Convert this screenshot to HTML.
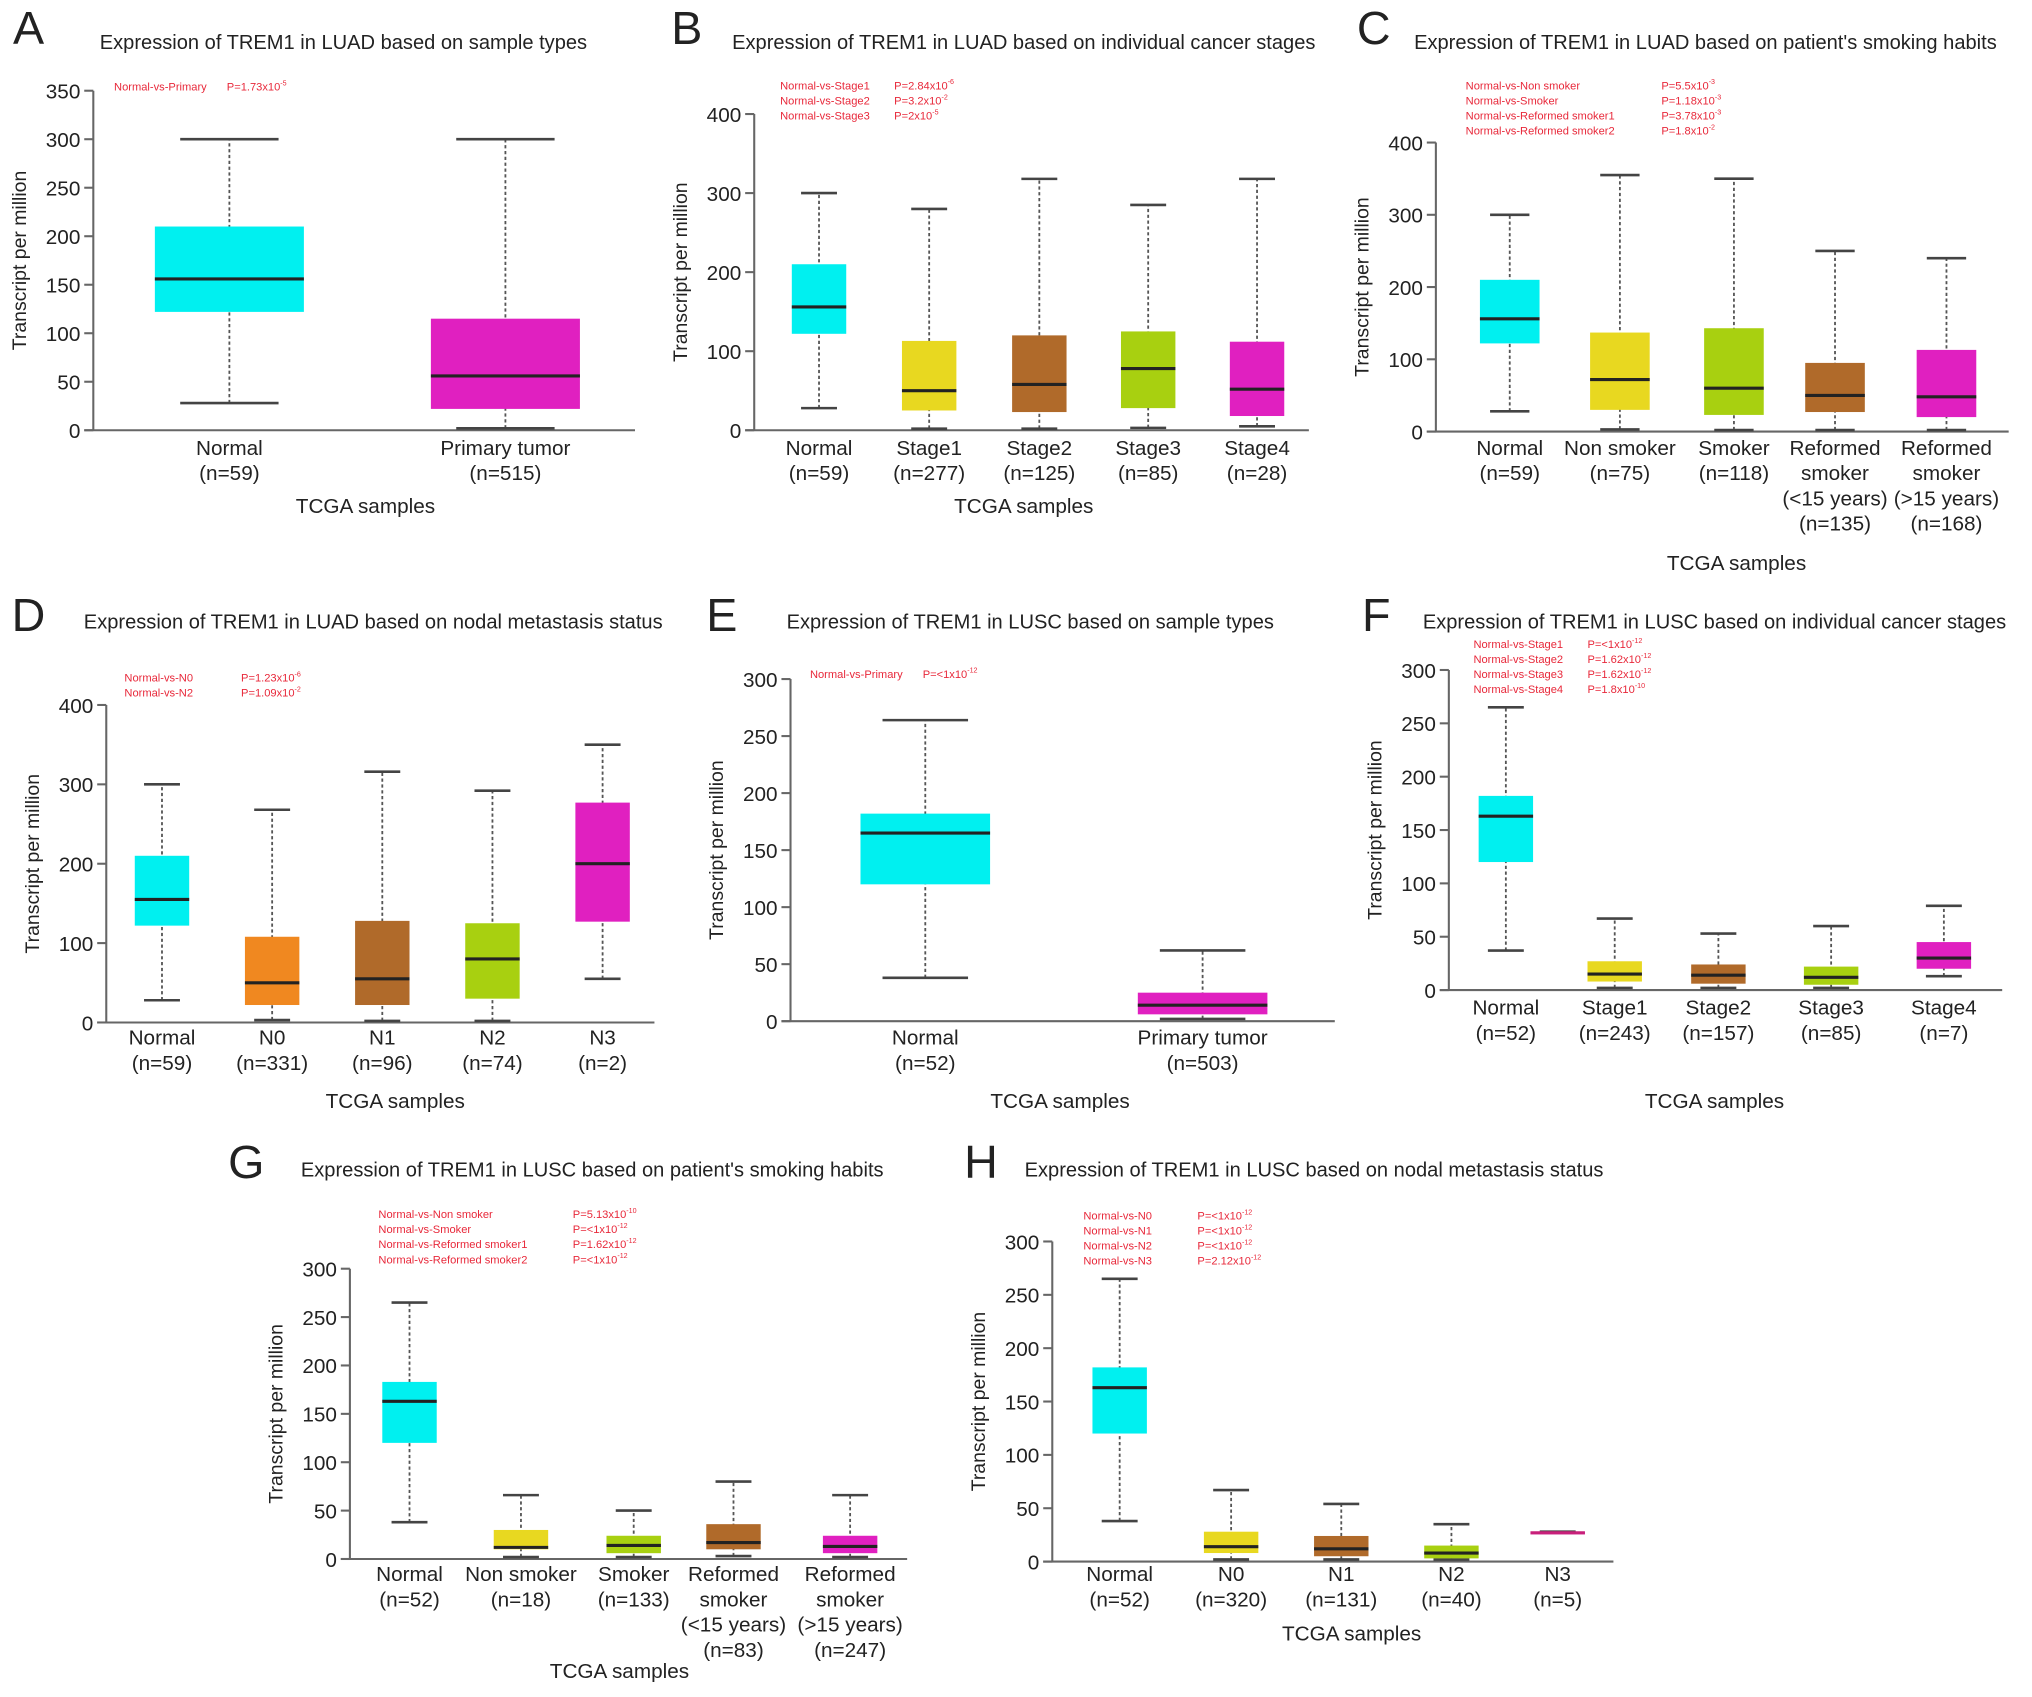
<!DOCTYPE html>
<html><head><meta charset="utf-8"><style>
html,body{margin:0;padding:0;background:#fff}
svg{display:block}
text{font-family:"Liberation Sans",Arial,sans-serif;fill:#222}
</style></head><body>
<svg id="fig" width="2032" height="1697" viewBox="0 0 1568 1309.5" xmlns="http://www.w3.org/2000/svg"></svg>
<script>
// ---- data ----
const panelLetters = ["A","B","C","D","E","F","G","H"];
const titles = [
 "Expression of TREM1 in LUAD based on sample types",
 "Expression of TREM1 in LUAD based on individual cancer stages",
 "Expression of TREM1 in LUAD based on patient's smoking habits",
 "Expression of TREM1 in LUAD based on nodal metastasis status",
 "Expression of TREM1 in LUSC based on sample types",
 "Expression of TREM1 in LUSC based on individual cancer stages",
 "Expression of TREM1 in LUSC based on patient's smoking habits",
 "Expression of TREM1 in LUSC based on nodal metastasis status"];
const catsA = [["Normal","(n=59)"],["Primary tumor","(n=515)"]];
const catsB = [["Normal","(n=59)"],["Stage1","(n=277)"],["Stage2","(n=125)"],["Stage3","(n=85)"],["Stage4","(n=28)"]];
const catsC = [["Normal","(n=59)"],["Non smoker","(n=75)"],["Smoker","(n=118)"],["Reformed","smoker","(<15 years)","(n=135)"],["Reformed","smoker","(>15 years)","(n=168)"]];
const catsD = [["Normal","(n=59)"],["N0","(n=331)"],["N1","(n=96)"],["N2","(n=74)"],["N3","(n=2)"]];
const catsE = [["Normal","(n=52)"],["Primary tumor","(n=503)"]];
const catsF = [["Normal","(n=52)"],["Stage1","(n=243)"],["Stage2","(n=157)"],["Stage3","(n=85)"],["Stage4","(n=7)"]];
const catsG = [["Normal","(n=52)"],["Non smoker","(n=18)"],["Smoker","(n=133)"],["Reformed","smoker","(<15 years)","(n=83)"],["Reformed","smoker","(>15 years)","(n=247)"]];
const catsH = [["Normal","(n=52)"],["N0","(n=320)"],["N1","(n=131)"],["N2","(n=40)"],["N3","(n=5)"]];
// [min, q1, median, q3, max]
const valsA = [[28,122,156,210,300],[2,22,56,115,300]];
const valsB = [[28,122,156,210,300],[2,25,50,113,280],[2,23,58,120,318],[3,28,78,125,285],[5,18,52,112,318]];
const valsC = [[28,122,156,210,300],[3,30,72,137,355],[2,23,60,143,350],[2,27,50,95,250],[2,20,48,113,240]];
const valsD = [[28,122,155,210,300],[3,22,50,108,268],[2,22,55,128,316],[2,30,80,125,292],[55,127,200,277,350]];
const valsE = [[38,120,165,182,264],[2,6,14,25,62]];
const valsF = [[37,120,163,182,265],[2,8,15,27,67],[2,6,14,24,53],[2,5,12,22,60],[13,20,30,45,79]];
const valsG = [[38,120,163,183,265],[2,10,12,30,66],[2,6,14,24,50],[3,10,17,36,80],[2,6,13,24,66]];
const valsH = [[38,120,163,182,265],[2,8,14,28,67],[2,5,12,24,54],[2,3,8,15,35],[27,27,27,28,28]];
const ticksA = [0,50,100,150,200,250,300,350];
const ticks400 = [0,100,200,300,400];
const ticks300 = [0,50,100,150,200,250,300];
const pA = [["Normal-vs-Primary","1.73x10","-5"]];
const pB = [["Normal-vs-Stage1","2.84x10","-6"],["Normal-vs-Stage2","3.2x10","-2"],["Normal-vs-Stage3","2x10","-5"]];
const pC = [["Normal-vs-Non smoker","5.5x10","-3"],["Normal-vs-Smoker","1.18x10","-3"],["Normal-vs-Reformed smoker1","3.78x10","-3"],["Normal-vs-Reformed smoker2","1.8x10","-2"]];
const pD = [["Normal-vs-N0","1.23x10","-6"],["Normal-vs-N2","1.09x10","-2"]];
const pE = [["Normal-vs-Primary","<1x10","-12"]];
const pF = [["Normal-vs-Stage1","<1x10","-12"],["Normal-vs-Stage2","1.62x10","-12"],["Normal-vs-Stage3","1.62x10","-12"],["Normal-vs-Stage4","1.8x10","-10"]];
const pG = [["Normal-vs-Non smoker","5.13x10","-10"],["Normal-vs-Smoker","<1x10","-12"],["Normal-vs-Reformed smoker1","1.62x10","-12"],["Normal-vs-Reformed smoker2","<1x10","-12"]];
const pH = [["Normal-vs-N0","<1x10","-12"],["Normal-vs-N1","<1x10","-12"],["Normal-vs-N2","<1x10","-12"],["Normal-vs-N3","2.12x10","-12"]];

const CY="#00f0f0",YE="#e8d820",BR="#b06a2a",YG="#a8d010",MA="#e020c0",OR="#f08820";
const panels = [
 {cats:catsA,vals:valsA,ticks:ticksA,p:pA,cols:[CY,MA],L:[22,20],T:[265,33],ax:72,y0:332,yt:70,xe:490,cx:[177,390],bw:115,lab:346,tc:[282,391],px:88,pv:175,py:67},
 {cats:catsB,vals:valsB,ticks:ticks400,p:pB,cols:[CY,YE,BR,YG,MA],L:[530,20],T:[790,33],ax:582,y0:332,yt:88,xe:1010,cx:[632,717,802,886,970],bw:42,lab:346,tc:[790,391],px:602,pv:690,py:66},
 {cats:catsC,vals:valsC,ticks:ticks400,p:pC,cols:[CY,YE,YG,BR,MA],L:[1060,20],T:[1316,33],ax:1108,y0:333,yt:110,xe:1550,cx:[1165,1250,1338,1416,1502],bw:46,lab:346,tc:[1340,435],px:1131,pv:1282,py:66},
 {cats:catsD,vals:valsD,ticks:ticks400,p:pD,cols:[CY,OR,BR,YG,MA],L:[22,473],T:[288,480],ax:82,y0:789,yt:544,xe:505,cx:[125,210,295,380,465],bw:42,lab:801,tc:[305,850],px:96,pv:186,py:523},
 {cats:catsE,vals:valsE,ticks:ticks300,p:pE,cols:[CY,MA],L:[557,473],T:[795,480],ax:610,y0:788,yt:524,xe:1030,cx:[714,928],bw:100,lab:801,tc:[818,850],px:625,pv:712,py:520},
 {cats:catsF,vals:valsF,ticks:ticks300,p:pF,cols:[CY,YE,BR,YG,MA],L:[1062,473],T:[1323,480],ax:1118,y0:764,yt:517,xe:1545,cx:[1162,1246,1326,1413,1500],bw:42,lab:778,tc:[1323,850],px:1137,pv:1225,py:497},
 {cats:catsG,vals:valsG,ticks:ticks300,p:pG,cols:[CY,YE,YG,BR,MA],L:[190,895],T:[457,903],ax:270,y0:1203,yt:979,xe:700,cx:[316,402,489,566,656],bw:42,lab:1215,tc:[478,1290],px:292,pv:442,py:937},
 {cats:catsH,vals:valsH,ticks:ticks300,p:pH,cols:[CY,YE,BR,YG,MA],L:[757,895],T:[1014,903],ax:812,y0:1205,yt:958,xe:1245,cx:[864,950,1035,1120,1202],bw:42,lab:1215,tc:[1043,1261],px:836,pv:924,py:938}
];

const svg=document.getElementById('fig');
const NS="http://www.w3.org/2000/svg";
function mk(tag,attrs,parent,txt){const e=document.createElementNS(NS,tag);for(const k in attrs)e.setAttribute(k,attrs[k]);if(txt!==undefined)e.textContent=txt;(parent||svg).appendChild(e);return e;}

panels.forEach((P,i)=>{
  const g=mk('g',{});
  
  
  const tmax=P.ticks[P.ticks.length-1];
  const y=v=>P.y0-(v/tmax)*(P.y0-P.yt);
  const l=mk('text',{x:P.L[0],y:P.L[1]+14,'font-size':36,'text-anchor':'middle',fill:'#111'},g,panelLetters[i]);
  
  
  const t=mk('text',{x:P.T[0],y:P.T[1]+5,'font-size':15.5,'text-anchor':'middle',fill:'#333'},g,titles[i]);
  
  
  const ya=mk('line',{x1:P.ax,x2:P.ax,y1:P.yt,y2:P.y0,stroke:'#666','stroke-width':1.6},g);
  
  
  const xa=mk('line',{x1:P.ax-7,x2:P.xe,y1:P.y0,y2:P.y0,stroke:'#666','stroke-width':1.6},g);
  
  
  P.ticks.forEach(tv=>{
    mk('line',{x1:P.ax-7,x2:P.ax,y1:y(tv),y2:y(tv),stroke:'#666','stroke-width':1.6},g);
    const tl=mk('text',{x:P.ax-10,y:y(tv)+6,'font-size':16,'text-anchor':'end',fill:'#333'},g,tv);
    
    
  });
  const yc=(P.y0+P.yt)/2;
  const yt=mk('text',{x:P.ax-52,y:yc,'font-size':15,'text-anchor':'middle',transform:`rotate(-90 ${P.ax-52} ${yc})`,fill:'#333'},g,'Transcript per million');
  
  
  const xt=mk('text',{x:P.tc[0],y:P.tc[1]+5,'font-size':16,'text-anchor':'middle',fill:'#333'},g,'TCGA samples');
  
  
  P.p.forEach((row,j)=>{
    const yy=P.py+j*11.6+3;
    const a=mk('text',{x:P.px,y:yy,'font-size':8.6,style:'fill:#e8283a'},g,row[0]);
    
    
    const b=mk('text',{x:P.pv,y:yy,'font-size':8.6,style:'fill:#e8283a'},g);
    
    
    mk('tspan',{},b,'P='+row[1]);
    mk('tspan',{'font-size':5.5,dy:-4},b,row[2]);
  });
  P.vals.forEach((v,k)=>{
    const cx=P.cx[k],hw=P.bw/2,cw=P.bw*0.33;
    const bg=mk('g',{},g);
    
    
    mk('line',{x1:cx,x2:cx,y1:y(v[0]),y2:y(v[4]),stroke:'#555','stroke-width':1.4,'stroke-dasharray':'2.5,2'},bg);
    mk('line',{x1:cx-cw,x2:cx+cw,y1:y(v[4]),y2:y(v[4]),stroke:'#444','stroke-width':2},bg);
    mk('line',{x1:cx-cw,x2:cx+cw,y1:y(v[0]),y2:y(v[0]),stroke:'#444','stroke-width':2},bg);
    const flat=(v[3]-v[1])<=2;
    const h=Math.max(y(v[1])-y(v[3]),2);
    mk('rect',{x:cx-hw,y:y(v[3]),width:P.bw,height:h,fill:P.cols[k]},bg);
    mk('line',{x1:cx-hw,x2:cx+hw,y1:y(v[2]),y2:y(v[2]),stroke:flat?'#c8207a':'#222','stroke-width':2.4},bg);
    P.cats[k].forEach((s,m)=>{
      const ct=mk('text',{x:cx,y:P.lab+5+m*19.5,'font-size':16,'text-anchor':'middle',fill:'#333'},g,s);
      
      
    });
  });
});
</script>
</body></html>
